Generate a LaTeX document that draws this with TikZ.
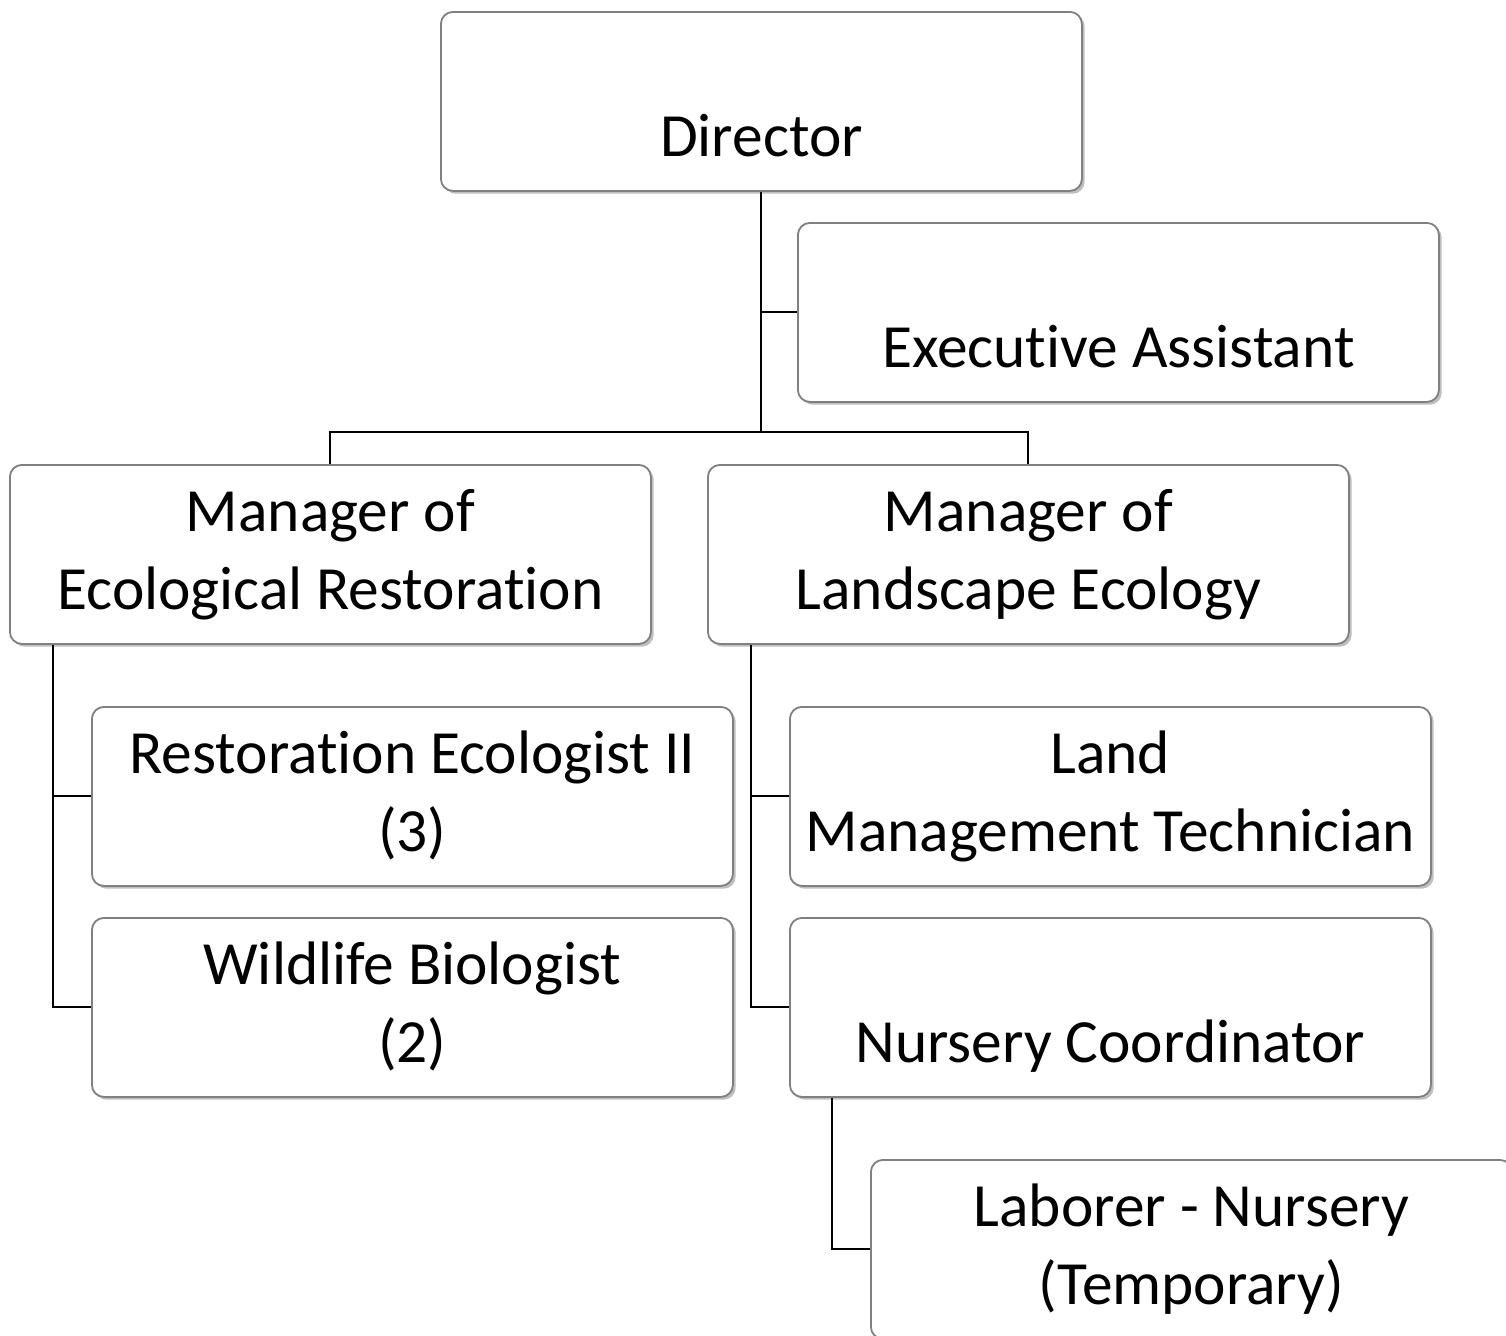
\documentclass[tikz,border=0pt]{standalone}
\usepackage{fontspec}
\setmainfont[Ligatures=NoCommon]{Carlito}
\usetikzlibrary{shadows}

\tikzset{
  post/.style={draw=black!50, line width=0.9pt, rounded corners=6pt, fill=white,
    minimum width=320.5pt, minimum height=89.5pt, anchor=north west, inner sep=0pt,
    align=center, font=\fontsize{30.7}{39}\selectfont,
    drop shadow={shadow xshift=1.4pt, shadow yshift=-1.4pt, fill=black!25, opacity=1}},
  conn/.style={draw=black, line width=1pt}
}

\begin{document}
\begin{tikzpicture}[x=0.5pt, y=-0.5pt]
\useasboundingbox (0,0) rectangle (1506,1335);

%Boxes
\node[post] (director)   at (440,11)   {\strut\\\strut Director};
\node[post] (assistant)  at (797,222)  {\strut\\\strut Executive Assistant};
\node[post] (mgrEco)     at (9,464)    {\strut Manager of\\\strut Ecological Restoration};
\node[post] (mgrLand)    at (707,464)  {\strut Manager of\\\strut Landscape Ecology};
\node[post] (ecologist)  at (91,706)   {\strut Restoration Ecologist II\\\strut (3)};
\node[post] (biologist)  at (91,917)   {\strut Wildlife Biologist\\\strut (2)};
\node[post] (technician) at (789,706)  {\strut Land\\\strut Management Technician};
\node[post] (nursery)    at (789,917)  {\strut\\\strut Nursery Coordinator};
\node[post] (laborer)    at (870,1159) {\strut Laborer - Nursery\\\strut (Temporary)};

%Director to managers
\coordinate (split) at ([yshift=16pt]director.south |- mgrEco.north);
\draw[conn] (director.south) -- (split);
\draw[conn] (director.south |- assistant.west) -- (assistant.west);
\draw[conn] (mgrEco.north) |- (split) -| (mgrLand.north);

%Staff lines
\coordinate (ecoTrunk)  at ([xshift=22pt]mgrEco.south west);
\coordinate (landTrunk) at ([xshift=22pt]mgrLand.south west);
\coordinate (nurTrunk)  at ([xshift=21.5pt]nursery.south west);
\draw[conn] (ecoTrunk) |- (ecologist.west);
\draw[conn] (ecoTrunk) |- (biologist.west);
\draw[conn] (landTrunk) |- (technician.west);
\draw[conn] (landTrunk) |- (nursery.west);
\draw[conn] (nurTrunk) |- (laborer.west);
\end{tikzpicture}
\end{document}
